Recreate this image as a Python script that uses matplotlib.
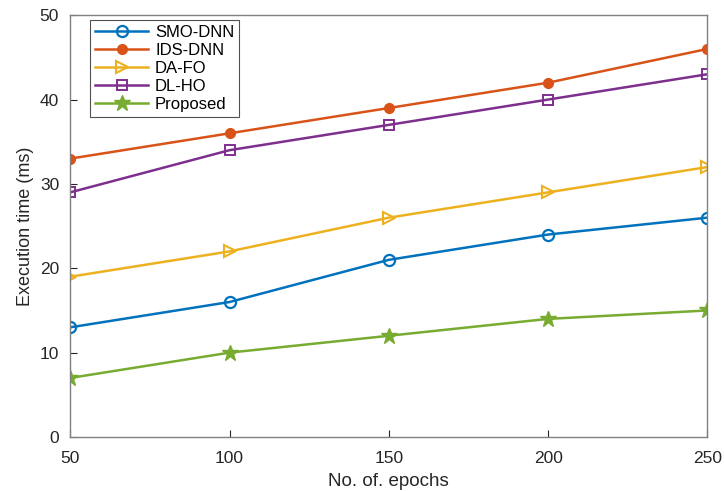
import numpy as np
import matplotlib.pyplot as plt

plt.rcParams['font.family'] = ['Liberation Sans', 'DejaVu Sans']

epochs = [50, 100, 150, 200, 250]
smo_dnn = [13, 16, 21, 24, 26]
ids_dnn = [33, 36, 39, 42, 46]
da_fo = [19, 22, 26, 29, 32]
dl_ho = [29, 34, 37, 40, 43]
proposed = [7, 10, 12, 14, 15]

fig = plt.figure(figsize=(7.24, 4.91), dpi=100)
ax = fig.add_axes([0.097, 0.11, 0.880, 0.859])

ax.plot(epochs, smo_dnn, color='#0072BD', marker='o', ms=8, mfc='none', mew=1.6, lw=1.8, label='SMO-DNN')
ax.plot(epochs, ids_dnn, color='#D95319', marker='o', ms=7, lw=1.8, label='IDS-DNN')
ax.plot(epochs, da_fo, color='#EDB120', marker='>', ms=9, mfc='none', mew=1.5, lw=1.8, label='DA-FO')
ax.plot(epochs, dl_ho, color='#7E2F8E', marker='s', ms=6.5, mfc='none', mew=1.4, lw=1.8, label='DL-HO')
ax.plot(epochs, proposed, color='#77AC30', marker='*', ms=12, lw=1.8, label='Proposed')

ax.set_xlim(50, 250)
ax.set_ylim(0, 50)
ax.set_xticks(epochs)
ax.set_yticks(np.arange(0, 51, 10))
ax.tick_params(direction='in', length=5, labelsize=12.5, colors='#262626')
ax.tick_params(axis='x', pad=10)
ax.tick_params(axis='y', pad=8)
for s in ax.spines.values():
    s.set_color('#808080')
    s.set_linewidth(1.0)

ax.set_xlabel('No. of. epochs', fontsize=13.5, color='#262626', labelpad=5)
ax.set_ylabel('Execution time (ms)', fontsize=13, color='#262626', labelpad=4)

leg = ax.legend(loc='upper left', bbox_to_anchor=(0.018, 1.008), fontsize=12,
                frameon=True, fancybox=False, edgecolor='#262626',
                handlelength=3.2, labelspacing=0.18, borderpad=0.3, handletextpad=0.4)
leg.get_frame().set_linewidth(0.8)

fig.savefig('out.png', dpi=100)
